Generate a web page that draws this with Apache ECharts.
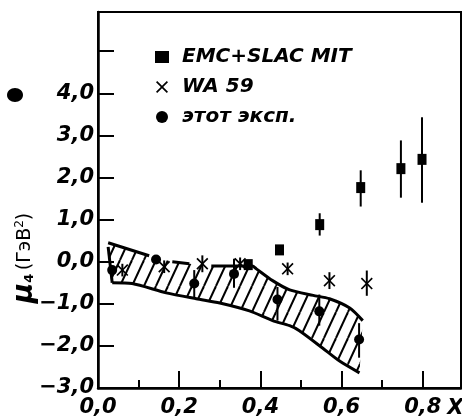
<!DOCTYPE html>
<html><head><meta charset="utf-8">
<script src="https://cdn.jsdelivr.net/npm/echarts@6/dist/echarts.min.js"></script>
<style>html,body{margin:0;padding:0;background:#fff}#c{width:462px;height:419px}</style>
</head><body><div id="c"></div>
<script>
// ---- data ----
const xTickValues = [0.0, 0.2, 0.4, 0.6, 0.8];
const yTickValues = [-3, -2, -1, 0, 1, 2, 3, 4];

// EMC+SLAC MIT (squares): x, y, error low, error high
const emcX  = [0.370, 0.447, 0.546, 0.647, 0.746, 0.798];
const emcY  = [-0.07, 0.28, 0.88, 1.76, 2.21, 2.43];
const emcLo = [-0.12, 0.18, 0.62, 1.31, 1.52, 1.40];
const emcHi = [-0.02, 0.36, 1.15, 2.17, 2.88, 3.43];

// WA 59 (crosses)
const waX  = [0.060, 0.163, 0.257, 0.350, 0.467, 0.570, 0.662];
const waY  = [-0.20, -0.12, -0.05, -0.05, -0.17, -0.45, -0.52];
const waLo = [-0.35, -0.27, -0.25, -0.20, -0.32, -0.65, -0.81];
const waHi = [-0.05, 0.03, 0.15, 0.10, -0.02, -0.25, -0.21];

// этот эксп. (dots)
const dotX  = [0.035, 0.143, 0.237, 0.335, 0.442, 0.545, 0.643];
const dotY  = [-0.20, 0.05, -0.52, -0.29, -0.90, -1.18, -1.85];
const dotLo = [-0.20, 0.05, -0.88, -0.62, -1.40, -1.52, -2.28];
const dotHi = [-0.20, 0.05, -0.20, 0.07, -0.60, -0.78, -1.46];

// hatched band
const bandUpperX = [0.025, 0.126, 0.183, 0.225, 0.279, 0.323, 0.380, 0.390, 0.430, 0.472, 0.530, 0.570, 0.620, 0.652];
const bandUpperY = [0.45, 0.14, 0.00, -0.05, -0.10, -0.10, -0.10, -0.17, -0.45, -0.67, -0.80, -0.88, -1.10, -1.40];
const upperGapsAfter = [1, 3];
const bandLowerX = [0.035, 0.084, 0.168, 0.242, 0.300, 0.373, 0.430, 0.472, 0.496, 0.553, 0.595, 0.644];
const bandLowerY = [-0.50, -0.52, -0.74, -0.88, -0.98, -1.17, -1.40, -1.52, -1.64, -2.05, -2.36, -2.64];

// ---- helpers ----
const fmtNum = v => (v < 0 ? '\u2212' : '') + Math.abs(v).toFixed(1).replace('.', ',');
const font = 'DejaVu Sans';
const crossPath = 'path://M1,0L5,4L9,0L10,1L6,5L10,9L9,10L5,6L1,10L0,9L4,5L0,1Z';

function hatchPattern() {
  const w = 12, h = 26;
  const cv = document.createElement('canvas');
  cv.width = w; cv.height = h;
  const ctx = cv.getContext('2d');
  ctx.strokeStyle = '#000'; ctx.lineWidth = 2;
  for (let k = -1; k <= 1; k++) {
    ctx.beginPath();
    ctx.moveTo(k * w, h); ctx.lineTo(k * w + w, 0);
    ctx.stroke();
  }
  return {type: 'pattern', image: cv, repeat: 'repeat'};
}

function errData(xs, lo, hi) { return xs.map((x, i) => [x, lo[i], hi[i]]); }
function errSeries(name, data) {
  return {
    type: 'custom', name: name, data: data, z: 4, silent: true,
    renderItem: (params, api) => {
      const p1 = api.coord([api.value(0), api.value(1)]);
      const p2 = api.coord([api.value(0), api.value(2)]);
      return {type: 'line', shape: {x1: p1[0], y1: p1[1], x2: p2[0], y2: p2[1]},
              style: {stroke: '#000', lineWidth: 2}};
    }
  };
}

const upperLine = [];
bandUpperX.forEach((x, i) => {
  upperLine.push([x, bandUpperY[i]]);
  if (upperGapsAfter.includes(i)) upperLine.push(null);
});
const leftEdge = [[bandUpperX[0], bandUpperY[0] - 0.1], [bandLowerX[0], bandLowerY[0]]];
const lowerLine = bandLowerX.map((x, i) => [x, bandLowerY[i]]);

const chart = echarts.init(document.getElementById('c'), null, {renderer: 'canvas'});
const pattern = hatchPattern();
const solid = {color: '#000', opacity: 1};

const option = {
  animation: false,
  backgroundColor: '#fff',
  grid: {left: 98, right: 1, top: 12, bottom: 31, show: true, borderColor: '#000', borderWidth: 2,
         containLabel: false, outerBoundsMode: 'none'},
  legend: {
    orient: 'vertical', left: 150, top: 42, itemGap: 10, itemWidth: 14, itemHeight: 12,
    selectedMode: false,
    textStyle: {fontFamily: font, fontStyle: 'italic', fontWeight: 'bold', fontSize: 20, color: '#000', padding: [0, 0, 0, 8]},
    data: [
      {name: 'EMC+SLAC MIT', icon: 'rect', itemStyle: solid},
      {name: 'WA 59', icon: crossPath, itemStyle: solid},
      {name: 'этот эксп.', icon: 'circle', itemStyle: solid}
    ]
  },
  xAxis: [{
    type: 'value', min: 0, max: 0.894, interval: 0.2, position: 'bottom', offset: 0,
    axisLine: {onZero: false, lineStyle: {color: '#000', width: 2.5}},
    axisTick: {inside: true, length: 17, lineStyle: {color: '#000', width: 2}},
    splitLine: {show: false},
    axisLabel: {
      margin: 9, color: '#000', fontFamily: font, fontStyle: 'italic', fontWeight: 'bold', fontSize: 21,
      formatter: v => { const r = Math.round(v * 10); return xTickValues.some(t => Math.round(t * 10) === r) && Math.abs(v * 10 - r) < 1e-6 ? fmtNum(v) : ''; }
    },
    name: 'X', nameLocation: 'end', nameGap: -18,
    nameTextStyle: {color: '#000', fontFamily: font, fontStyle: 'italic', fontWeight: 'bold', fontSize: 21, verticalAlign: 'top', padding: [10, 0, 0, 0]}
  }, {
    type: 'value', min: 0, max: 0.894, interval: 0.1, position: 'bottom', offset: 0,
    axisLine: {show: false, onZero: false},
    axisTick: {inside: true, length: 8, lineStyle: {color: '#000', width: 2}},
    axisLabel: {show: false}, splitLine: {show: false}
  }],
  yAxis: {
    type: 'value', min: -3, max: 5.93, interval: 1,
    axisLine: {onZero: false, lineStyle: {color: '#000', width: 2.5}},
    axisTick: {inside: true, length: 16, lineStyle: {color: '#000', width: 2}},
    splitLine: {show: false},
    axisLabel: {
      margin: 4, color: '#000', fontFamily: font, fontStyle: 'italic', fontWeight: 'bold', fontSize: 21,
      formatter: v => yTickValues.includes(v) ? fmtNum(v) : ''
    }
  },
  graphic: [
    {type: 'ellipse', shape: {cx: 15, cy: 95, rx: 8, ry: 7}, style: {fill: '#000'}},
    {type: 'text', x: 25, y: 258, rotation: Math.PI / 2,
     style: {text: '{mu|μ}{sub|4} {u|(ГэВ}{sup|2}{u|)}', align: 'center', verticalAlign: 'middle',
       rich: {
         mu: {fontFamily: font, fontStyle: 'italic', fontWeight: 'bold', fontSize: 28, fill: '#000'},
         sub: {fontFamily: font, fontWeight: 'bold', fontSize: 13, fill: '#000', padding: [10, 0, 0, 0]},
         u: {fontFamily: font, fontSize: 19, fill: '#000'},
         sup: {fontFamily: font, fontSize: 12, fill: '#000', padding: [0, 0, 10, 0]}
       }}}
  ],
  series: [
    {
      type: 'custom', name: 'band', silent: true, z: 1,
      data: [0],
      renderItem: (params, api) => {
        const pts = [];
        bandUpperX.forEach((x, i) => pts.push(api.coord([x, bandUpperY[i]])));
        for (let i = bandLowerX.length - 1; i >= 0; i--) pts.push(api.coord([bandLowerX[i], bandLowerY[i]]));
        return {type: 'polygon', shape: {points: pts, smooth: 0}, style: {fill: pattern, stroke: null}};
      }
    },
    {type: 'line', name: 'upper', data: upperLine, showSymbol: false, connectNulls: false, silent: true, z: 2,
     smooth: 0.25, lineStyle: {color: '#000', width: 3}},
    {type: 'line', name: 'edge', data: leftEdge, showSymbol: false, silent: true, z: 2,
     lineStyle: {color: '#000', width: 3}},
    {type: 'line', name: 'lower', data: lowerLine, showSymbol: false, silent: true, z: 2,
     smooth: 0.25, lineStyle: {color: '#000', width: 3}},
    errSeries('errEmc', errData(emcX, emcLo, emcHi)),
    errSeries('errWa', errData(waX, waLo, waHi)),
    errSeries('errDot', errData(dotX, dotLo, dotHi)),
    {type: 'scatter', name: 'EMC+SLAC MIT', symbol: 'rect', symbolSize: [9, 11], z: 5,
     itemStyle: solid, data: emcX.map((x, i) => [x, emcY[i]])},
    {type: 'scatter', name: 'WA 59', symbol: crossPath, symbolSize: 12, z: 5,
     itemStyle: solid, data: waX.map((x, i) => [x, waY[i]])},
    {type: 'scatter', name: 'этот эксп.', symbol: 'circle', symbolSize: 10, z: 5,
     itemStyle: solid, data: dotX.map((x, i) => [x, dotY[i]])}
  ]
};
chart.setOption(option);
</script>
</body></html>
